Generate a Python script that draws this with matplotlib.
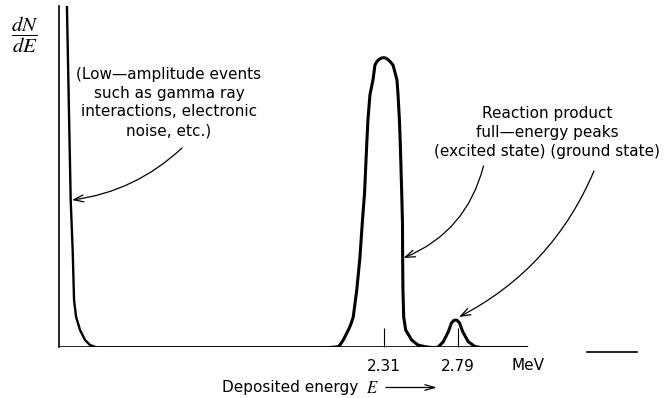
import matplotlib.pyplot as plt

# Trace: energy in MeV, dN/dE in arbitrary units (1 unit ~ 1 px)
spike_e = [0.234, 0.259, 0.272, 0.281, 0.294, 0.320, 0.353, 0.385, 0.424, 0.450]
spike_n = [345, 147.5, 97.5, 47.5, 30.8, 17.5, 7.5, 2.5, 0.3, 0]

excited_e = [1.955, 2.009, 2.020, 2.042, 2.075, 2.092, 2.107, 2.130, 2.151, 2.166,
             2.181, 2.195, 2.203, 2.216, 2.236, 2.249, 2.262, 2.275, 2.292, 2.305,
             2.318, 2.334, 2.347, 2.367, 2.393, 2.400, 2.409, 2.415, 2.424, 2.429,
             2.430, 2.432, 2.437, 2.450, 2.489, 2.530, 2.576, 2.622]
excited_n = [0, 0.8, 2.5, 7.5, 17.5, 23.5, 30.5, 57.5, 90.5, 124.5,
             154.5, 202.5, 227.5, 252.5, 267.5, 282.5, 286, 288, 289.5, 289.8,
             289.5, 288, 286, 282.5, 267.5, 252.5, 227.5, 202.5, 154.5, 124.5,
             90.5, 57.5, 30.5, 17.5, 7.5, 2.5, 0.8, 0]

ground_e = [2.648, 2.663, 2.696, 2.729, 2.749, 2.763, 2.776, 2.789, 2.802, 2.823,
            2.859, 2.903, 2.942]
ground_n = [0, 0.5, 5.8, 15.8, 24.5, 26.8, 27.5, 26.8, 24.5, 15.8, 5.8, 1, 0]

tick_pos = [2.31, 2.79]
tick_labels = ['2.31', '2.79']

x_range = (0.1857, 3.9608)
y_top = 341
axis_end = 3.241
stub_e = [3.634, 3.961]
stub_n = [-4.5, -4.5]

fig = plt.figure(figsize=(6.66, 3.98), dpi=100)
ax = fig.add_axes([0.0893, 0.1269, 0.8667, 0.8568])

# baseline (drawn as data, the bottom spine is hidden because the scan has a gap)
ax.plot([x_range[0], axis_end], [0, 0], color='black', lw=1.2, solid_capstyle='butt')
ax.plot(stub_e, stub_n, color='black', lw=1.2, clip_on=False)

ax.plot(spike_e + [excited_e[0]], spike_n + [0], color='black', lw=1.7,
        solid_joinstyle='round')
ax.plot(excited_e + ground_e + [axis_end], excited_n + ground_n + [0],
        color='black', lw=2.2, solid_joinstyle='round')

ax.set_xlim(*x_range)
ax.set_ylim(0, y_top)
for side in ['top', 'right', 'bottom']:
    ax.spines[side].set_visible(False)
ax.spines['left'].set_linewidth(1.2)
ax.set_yticks([])
ax.set_xticks(tick_pos, tick_labels, fontsize=11)
ax.tick_params(axis='x', direction='in', length=13.5, width=0.8, pad=8)

txt = dict(fontsize=11, family='DejaVu Sans', ha='center', va='center',
           linespacing=1.32)
ax.text(0.902, 245, '(Low\u2014amplitude events\nsuch as gamma ray\n'
        'interactions, electronic\nnoise, etc.)', **txt)
ax.text(3.377, 215, 'Reaction product\nfull\u2014energy peaks\n'
        '(excited state) (ground state)', clip_on=False, **txt)

arrow = dict(arrowstyle='->, head_length=0.7, head_width=0.25', lw=0.9,
             color='black', shrinkA=0, shrinkB=0, mutation_scale=10)
ax.annotate('', xy=(0.2675, 147.5), xytext=(0.987, 199.5),
            arrowprops=dict(connectionstyle='arc3,rad=-0.16', **arrow))
ax.annotate('', xy=(2.4356, 89.5), xytext=(2.959, 181.5),
            arrowprops=dict(connectionstyle='arc3,rad=-0.25', **arrow))
ax.annotate('', xy=(2.7986, 30.5), xytext=(3.6815, 176.5),
            arrowprops=dict(connectionstyle='arc3,rad=-0.18', **arrow),
            annotation_clip=False)

ax.text(3.248, -18.5, 'MeV', fontsize=11, ha='center', va='center', clip_on=False)
ax.text(1.2485, -40.5, 'Deposited energy', fontsize=11, ha='left', va='center',
        clip_on=False)
ax.text(2.19, -40.5, r'$\mathit{E}$', fontsize=12, ha='left', va='center',
        math_fontfamily='stix', clip_on=False)
ax.annotate('', xy=(2.654, -40), xytext=(2.32, -40), annotation_clip=False,
            arrowprops=dict(arrowstyle='->, head_length=0.7, head_width=0.2',
                            lw=0.9, color='black', shrinkA=0, shrinkB=0,
                            mutation_scale=10))

fig.text(24.5 / 666, 1 - 35 / 398, r'$\dfrac{dN}{dE}$', fontsize=15,
         math_fontfamily='stix', ha='center', va='center')

fig.savefig('out.png', dpi=100)
